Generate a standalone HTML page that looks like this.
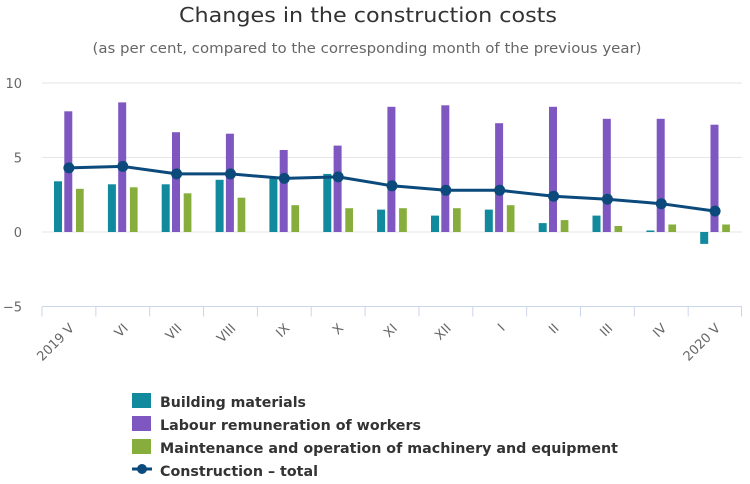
<!DOCTYPE html>
<html>
<head>
<meta charset="utf-8">
<style>
  html, body { margin:0; padding:0; background:#ffffff; }
  svg { display:block; }
  text { font-family: "DejaVu Sans", "Liberation Sans", sans-serif; }
</style>
</head>
<body>
<svg width="750" height="484" viewBox="0 0 750 484" xmlns="http://www.w3.org/2000/svg">
  <rect x="0" y="0" width="750" height="484" fill="#ffffff"/>

  <!-- Title -->
  <text x="368" y="22" text-anchor="middle" font-size="20" fill="#333333" textLength="378" lengthAdjust="spacingAndGlyphs">Changes in the construction costs</text>
  <text x="367" y="53" text-anchor="middle" font-size="14" fill="#666666" textLength="549" lengthAdjust="spacingAndGlyphs">(as per cent, compared to the corresponding month of the previous year)</text>

  <!-- Grid lines -->
  <g stroke="#e6e6e6" stroke-width="1">
    <line x1="42" y1="83" x2="742" y2="83"/>
    <line x1="42" y1="157.5" x2="742" y2="157.5"/>
    <line x1="42" y1="232" x2="742" y2="232"/>
  </g>

  <!-- Y labels -->
  <g font-size="13" fill="#666666" text-anchor="end">
    <text x="22" y="88">10</text>
    <text x="22" y="162.5">5</text>
    <text x="22" y="237">0</text>
    <text x="22" y="311.5">−5</text>
  </g>

  <!-- X axis -->
  <g stroke="#ccd6eb" stroke-width="1">
    <line x1="42" y1="306.5" x2="742" y2="306.5"/>
    <line x1="42" y1="306.5" x2="42" y2="316.5"/>
    <line x1="95.85" y1="306.5" x2="95.85" y2="316.5"/>
    <line x1="149.7" y1="306.5" x2="149.7" y2="316.5"/>
    <line x1="203.55" y1="306.5" x2="203.55" y2="316.5"/>
    <line x1="257.4" y1="306.5" x2="257.4" y2="316.5"/>
    <line x1="311.25" y1="306.5" x2="311.25" y2="316.5"/>
    <line x1="365.1" y1="306.5" x2="365.1" y2="316.5"/>
    <line x1="418.95" y1="306.5" x2="418.95" y2="316.5"/>
    <line x1="472.8" y1="306.5" x2="472.8" y2="316.5"/>
    <line x1="526.65" y1="306.5" x2="526.65" y2="316.5"/>
    <line x1="580.5" y1="306.5" x2="580.5" y2="316.5"/>
    <line x1="634.35" y1="306.5" x2="634.35" y2="316.5"/>
    <line x1="688.2" y1="306.5" x2="688.2" y2="316.5"/>
    <line x1="741.5" y1="306.5" x2="741.5" y2="316.5"/>
  </g>

  <!-- X labels -->
  <g font-size="13" fill="#666666" text-anchor="end">
    <text x="74.9" y="329" transform="rotate(-45 74.9 329)">2019 V</text>
    <text x="128.8" y="329" transform="rotate(-45 128.8 329)">VI</text>
    <text x="182.6" y="329" transform="rotate(-45 182.6 329)">VII</text>
    <text x="236.5" y="329" transform="rotate(-45 236.5 329)">VIII</text>
    <text x="290.3" y="329" transform="rotate(-45 290.3 329)">IX</text>
    <text x="344.2" y="329" transform="rotate(-45 344.2 329)">X</text>
    <text x="398.0" y="329" transform="rotate(-45 398.0 329)">XI</text>
    <text x="451.9" y="329" transform="rotate(-45 451.9 329)">XII</text>
    <text x="505.7" y="329" transform="rotate(-45 505.7 329)">I</text>
    <text x="559.6" y="329" transform="rotate(-45 559.6 329)">II</text>
    <text x="613.4" y="329" transform="rotate(-45 613.4 329)">III</text>
    <text x="667.3" y="329" transform="rotate(-45 667.3 329)">IV</text>
    <text x="721.1" y="329" transform="rotate(-45 721.1 329)">2020 V</text>
  </g>

  <!-- Building materials (teal) -->
  <g fill="#128a9d">
    <rect x="54.0" y="181.3" width="8" height="50.7"/>
    <rect x="107.9" y="184.3" width="8" height="47.7"/>
    <rect x="161.7" y="184.3" width="8" height="47.7"/>
    <rect x="215.6" y="179.8" width="8" height="52.2"/>
    <rect x="269.4" y="176.9" width="8" height="55.1"/>
    <rect x="323.3" y="173.9" width="8" height="58.1"/>
    <rect x="377.1" y="209.6" width="8" height="22.4"/>
    <rect x="431.0" y="215.6" width="8" height="16.4"/>
    <rect x="484.8" y="209.6" width="8" height="22.4"/>
    <rect x="538.7" y="223.1" width="8" height="8.9"/>
    <rect x="592.5" y="215.6" width="8" height="16.4"/>
    <rect x="646.4" y="230.5" width="8" height="1.5"/>
    <rect x="700.2" y="232" width="8" height="11.9"/>
  </g>

  <!-- Labour remuneration (purple) -->
  <g fill="#7e58c0">
    <rect x="64.3" y="111.3" width="8" height="120.7"/>
    <rect x="118.2" y="102.4" width="8" height="129.6"/>
    <rect x="172.0" y="132.2" width="8" height="99.8"/>
    <rect x="225.9" y="133.7" width="8" height="98.3"/>
    <rect x="279.7" y="150.0" width="8" height="82.0"/>
    <rect x="333.6" y="145.6" width="8" height="86.4"/>
    <rect x="387.4" y="106.8" width="8" height="125.2"/>
    <rect x="441.3" y="105.3" width="8" height="126.7"/>
    <rect x="495.1" y="123.2" width="8" height="108.8"/>
    <rect x="549.0" y="106.8" width="8" height="125.2"/>
    <rect x="602.8" y="118.8" width="8" height="113.2"/>
    <rect x="656.7" y="118.8" width="8" height="113.2"/>
    <rect x="710.5" y="124.7" width="8" height="107.3"/>
  </g>

  <!-- Maintenance (green) -->
  <g fill="#87ae3c">
    <rect x="76.0" y="188.8" width="7.7" height="43.2"/>
    <rect x="129.9" y="187.3" width="7.7" height="44.7"/>
    <rect x="183.7" y="193.3" width="7.7" height="38.7"/>
    <rect x="237.6" y="197.7" width="7.7" height="34.3"/>
    <rect x="291.4" y="205.2" width="7.7" height="26.8"/>
    <rect x="345.3" y="208.2" width="7.7" height="23.8"/>
    <rect x="399.1" y="208.2" width="7.7" height="23.8"/>
    <rect x="453.0" y="208.2" width="7.7" height="23.8"/>
    <rect x="506.8" y="205.2" width="7.7" height="26.8"/>
    <rect x="560.7" y="220.1" width="7.7" height="11.9"/>
    <rect x="614.5" y="226.0" width="7.7" height="6.0"/>
    <rect x="668.4" y="224.5" width="7.7" height="7.5"/>
    <rect x="722.2" y="224.5" width="7.7" height="7.5"/>
  </g>

  <!-- Construction total (line) -->
  <polyline fill="none" stroke="#0c4a7c" stroke-width="3" stroke-linejoin="round"
    points="68.9,167.9 122.8,166.4 176.6,173.9 230.5,173.9 284.3,178.4 338.2,176.9 392.0,185.8 445.9,190.3 499.7,190.3 553.6,196.2 607.4,199.2 661.3,203.7 715.1,211.1"/>
  <g fill="#0c4a7c">
    <circle cx="68.9" cy="167.9" r="5.5"/>
    <circle cx="122.8" cy="166.4" r="5.5"/>
    <circle cx="176.6" cy="173.9" r="5.5"/>
    <circle cx="230.5" cy="173.9" r="5.5"/>
    <circle cx="284.3" cy="178.4" r="5.5"/>
    <circle cx="338.2" cy="176.9" r="5.5"/>
    <circle cx="392.0" cy="185.8" r="5.5"/>
    <circle cx="445.9" cy="190.3" r="5.5"/>
    <circle cx="499.7" cy="190.3" r="5.5"/>
    <circle cx="553.6" cy="196.2" r="5.5"/>
    <circle cx="607.4" cy="199.2" r="5.5"/>
    <circle cx="661.3" cy="203.7" r="5.5"/>
    <circle cx="715.1" cy="211.1" r="5.5"/>
  </g>

  <!-- Legend -->
  <rect x="132" y="393" width="19" height="15" fill="#128a9d"/>
  <rect x="132" y="416" width="19" height="15" fill="#7e58c0"/>
  <rect x="132" y="439" width="19" height="15" fill="#87ae3c"/>
  <line x1="132" y1="469" x2="152" y2="469" stroke="#0c4a7c" stroke-width="3"/>
  <circle cx="142" cy="469" r="5" fill="#0c4a7c"/>
  <g font-size="14" font-weight="bold" fill="#333333">
    <text x="160" y="407" textLength="146" lengthAdjust="spacingAndGlyphs">Building materials</text>
    <text x="160" y="430" textLength="261" lengthAdjust="spacingAndGlyphs">Labour remuneration of workers</text>
    <text x="160" y="453" textLength="458" lengthAdjust="spacingAndGlyphs">Maintenance and operation of machinery and equipment</text>
    <text x="160" y="476" textLength="158" lengthAdjust="spacingAndGlyphs">Construction – total</text>
  </g>
</svg>
</body>
</html>
